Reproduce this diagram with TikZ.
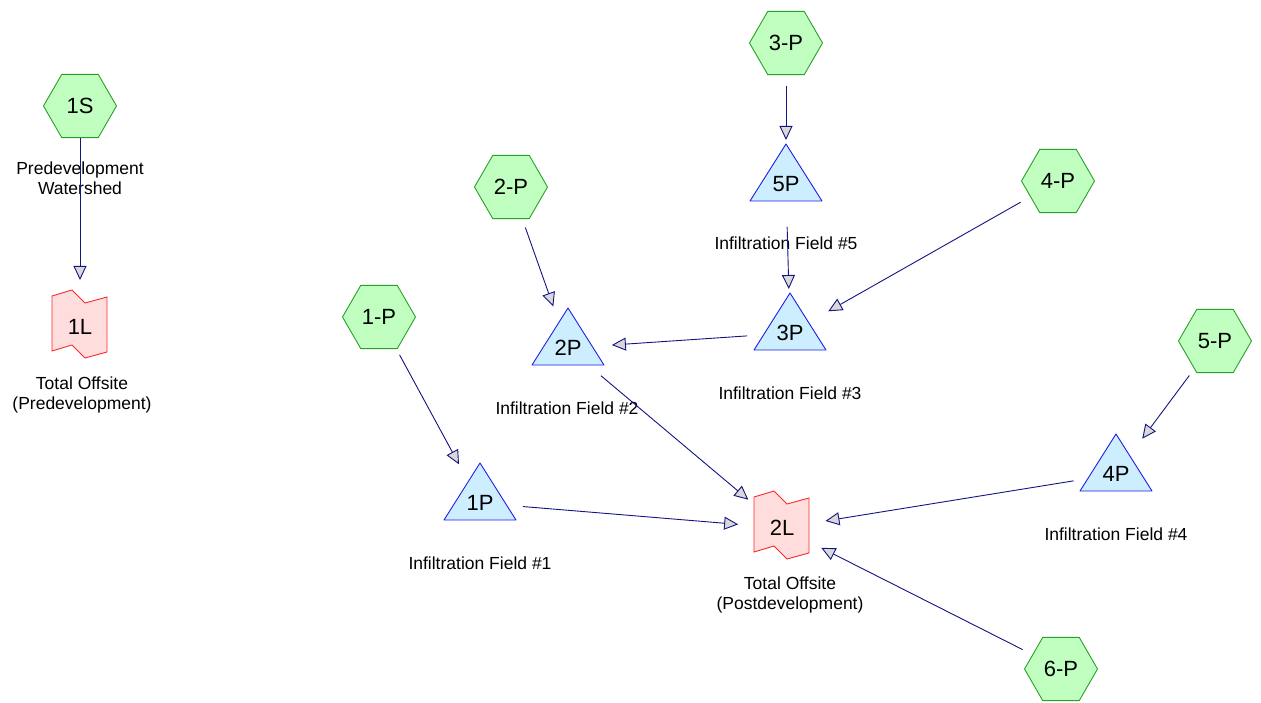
\documentclass[tikz,border=0pt]{standalone}
\usepackage{fontspec}
\setmainfont{Liberation Sans}
\usepackage{tikz}
\usetikzlibrary{arrows.meta}
\usetikzlibrary{shapes.geometric}
\usetikzlibrary{calc,backgrounds}
\definecolor{subfill}{RGB}{192,255,192}
\definecolor{subline}{RGB}{40,160,40}
\definecolor{pondfill}{RGB}{204,238,255}
\definecolor{pondline}{RGB}{30,30,230}
\definecolor{linkfill}{RGB}{255,221,221}
\definecolor{linkline}{RGB}{250,40,40}
\definecolor{flowline}{RGB}{20,20,130}
\definecolor{tipfill}{RGB}{216,216,216}
\tikzstyle{subcat}=[regular polygon,regular polygon sides=6,minimum size=73pt,inner sep=0pt,draw=subline,fill=subfill,line width=0.9pt,font=\fontsize{22}{26}\selectfont]
\tikzstyle{pond}=[inner sep=0pt,font=\fontsize{22}{26}\selectfont]
\tikzstyle{reach}=[inner sep=0pt,font=\fontsize{22}{26}\selectfont]
\tikzstyle{caption}=[align=center,font=\fontsize{17.5}{20}\selectfont]
\tikzstyle{flow}=[draw=flowline,line width=0.9pt,-{Triangle[length=14pt,width=13pt,fill=tipfill]},shorten <=43pt,shorten >=44pt]

\begin{document}
\begin{tikzpicture}[x=1pt,y=-1pt]
\useasboundingbox (0,0) rectangle (1261,703);

% subcatchments
\node [subcat] (ws1) at (80,106) {1S};
\node [subcat] (sub1) at (379,317) {1-P};
\node [subcat] (sub2) at (511,187) {2-P};
\node [subcat] (sub3) at (786,43) {3-P};
\node [subcat] (sub4) at (1058,181) {4-P};
\node [subcat] (sub5) at (1215,341) {5-P};
\node [subcat] (sub6) at (1061,669) {6-P};

% ponds and links
\node [pond] (pond1) at (480,503) {1P};
\node [pond] (pond2) at (568,348) {2P};
\node [pond] (pond3) at (790,333) {3P};
\node [pond] (pond4) at (1116,474) {4P};
\node [pond] (pond5) at (786,184) {5P};
\node [reach] (link1) at (80,327) {1L};
\node [reach] (link2) at (782,528) {2L};

\begin{scope}[on background layer]
\foreach \n in {pond1,pond2,pond3,pond4,pond5}
  \draw [draw=pondline,fill=pondfill,line width=0.9pt,line join=round]
    ($(\n.center)+(0,-40)$) -- ($(\n.center)+(36,17)$) -- ($(\n.center)+(-36,17)$) -- cycle;
\foreach \n in {link1,link2}
  \draw [draw=linkline,fill=linkfill,line width=0.9pt]
    ($(\n.center)+(-28,-31)$) -- ($(\n.center)+(-8,-37)$) -- ($(\n.center)+(5,-24)$)
    -- ($(\n.center)+(27,-30)$) -- ($(\n.center)+(27,25)$) -- ($(\n.center)+(5,31)$)
    -- ($(\n.center)+(-8,18)$) -- ($(\n.center)+(-28,24)$) -- cycle;
\end{scope}

% captions
\node [caption] (cap1s) at (80,178) {Predevelopment\\Watershed};
\node [caption] (cap1l) at (82,395) {Total Offsite\\(Predevelopment)};
\node [caption] (cap5p) at (786,243) {Infiltration Field \#5};
\node [caption] (cap2p) at (567,408) {Infiltration Field \#2};
\node [caption] (cap3p) at (790,393) {Infiltration Field \#3};
\node [caption] (cap1p) at (480,563) {Infiltration Field \#1};
\node [caption] (cap4p) at (1116,534) {Infiltration Field \#4};
\node [caption] (cap2l) at (790,595) {Total Offsite\\(Postdevelopment)};

% routing
\draw [flow,shorten <=32pt,shorten >=47pt] (ws1.center) -- (link1.center);
\draw [flow] (sub3.center) -- (pond5.center);
\draw [flow] (pond5.center) -- (pond3.center);
\draw [flow] (sub2.center) -- (pond2.center);
\draw [flow] (sub4.center) -- (pond3.center);
\draw [flow] (pond3.center) -- (pond2.center);
\draw [flow] (sub1.center) -- (pond1.center);
\draw [flow] (pond2.center) -- (link2.center);
\draw [flow] (pond1.center) -- (link2.center);
\draw [flow] (pond4.center) -- (link2.center);
\draw [flow] (sub5.center) -- (pond4.center);
\draw [flow] (sub6.center) -- (link2.center);
\end{tikzpicture}
\end{document}
